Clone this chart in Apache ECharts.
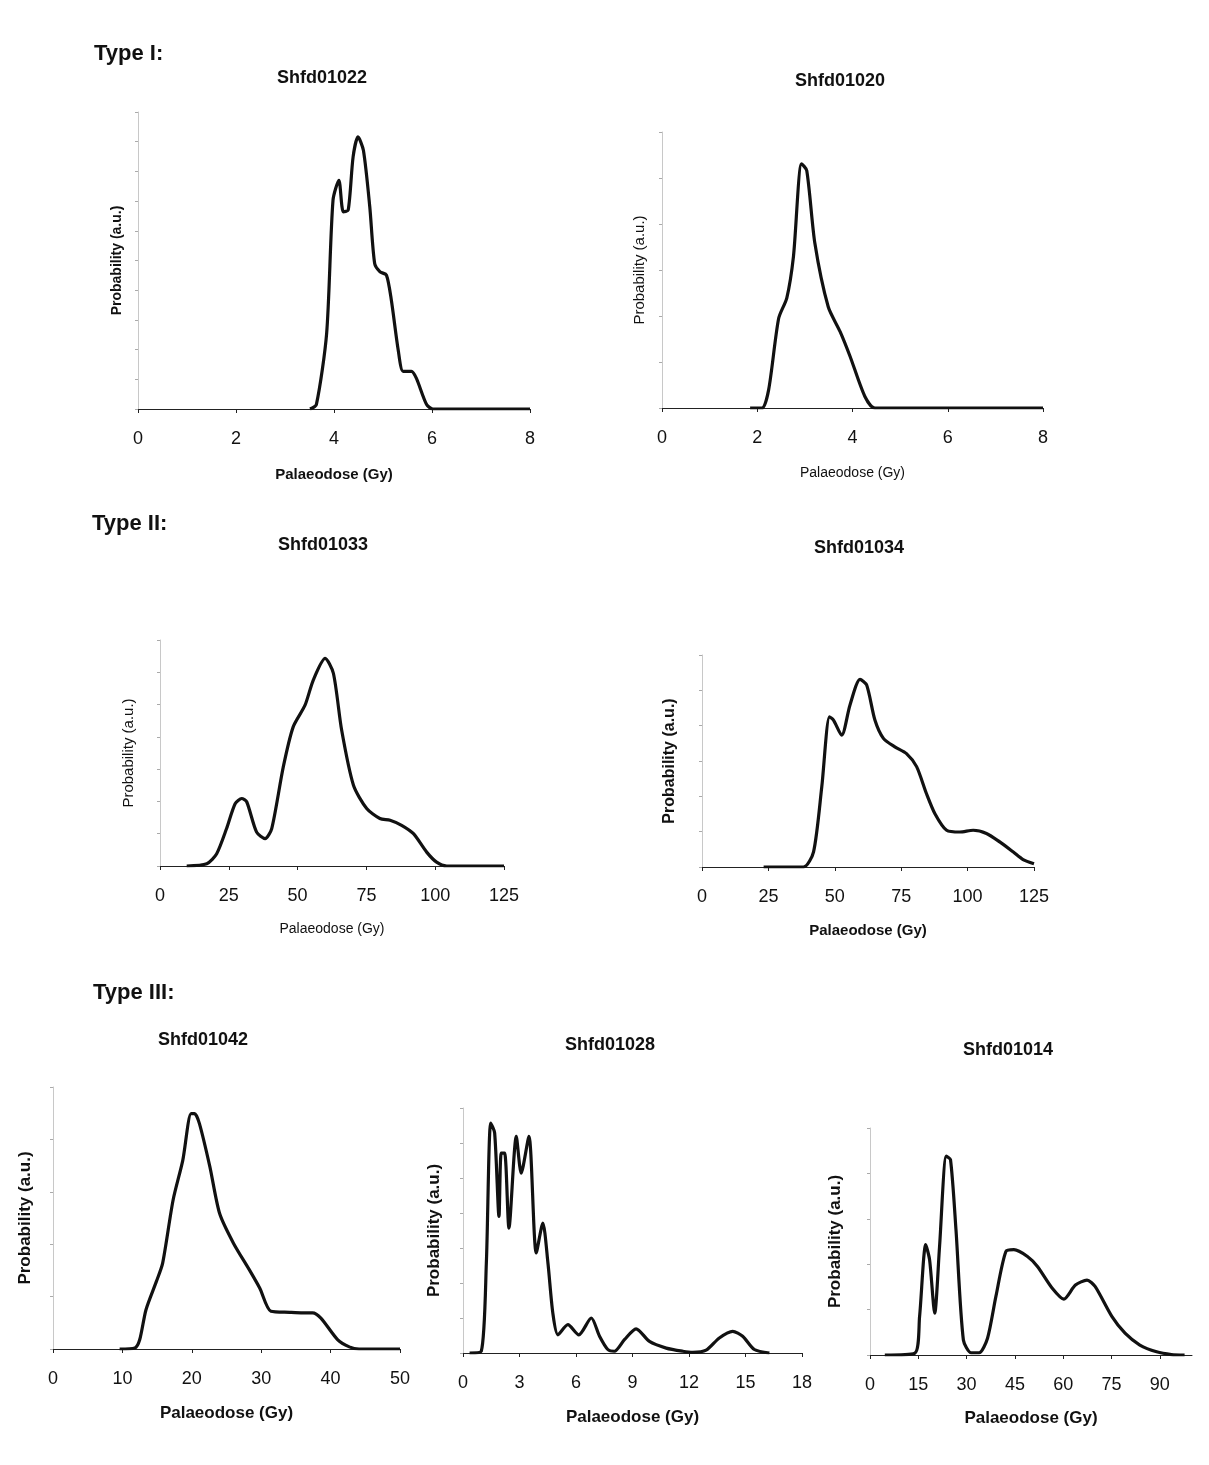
<!DOCTYPE html>
<html><head><meta charset="utf-8">
<script src="https://cdn.jsdelivr.net/npm/echarts@6/dist/echarts.min.js"></script>
<style>html,body{margin:0;padding:0;background:#fff}#c{width:1209px;height:1465px}</style>
</head><body><div id="c"></div>
<script>
// ---- data ----
const typeLabels = ["Type I:", "Type II:", "Type III:"];
const sampleNames = ["Shfd01022", "Shfd01020", "Shfd01033", "Shfd01034", "Shfd01042", "Shfd01028", "Shfd01014"];
const xAxisName = "Palaeodose (Gy)";
const yAxisName = "Probability (a.u.)";

const s1022x = [3.51, 3.64, 3.85, 3.98, 4.10, 4.19, 4.29, 4.39, 4.49, 4.60, 4.73, 4.83, 4.94, 5.07, 5.17, 5.31, 5.41, 5.58, 5.68, 5.89, 6.02, 8];
const s1022y = [0, 0.15, 2.55, 7.03, 7.70, 6.64, 6.70, 8.49, 9.16, 8.71, 6.81, 4.90, 4.62, 4.51, 3.67, 1.99, 1.27, 1.27, 1.04, 0.15, 0, 0];

const s1020x = [1.85, 2.10, 2.24, 2.45, 2.62, 2.76, 2.93, 3.04, 3.21, 3.49, 3.74, 3.95, 4.26, 4.47, 8];
const s1020y = [0, 0, 0.40, 1.95, 2.39, 3.29, 5.31, 5.16, 3.58, 2.20, 1.66, 1.12, 0.25, 0, 0];

const s1033x = [9.7, 17.0, 20.6, 24.2, 27.3, 29.7, 31.5, 35.1, 38.2, 40.6, 44.8, 48.4, 52.7, 55.7, 60.0, 63.0, 66.0, 70.3, 75.1, 79.9, 83.6, 87.8, 92.1, 96.9, 100.5, 104.2, 125];
const s1033y = [0, 0.07, 0.38, 1.16, 1.93, 2.09, 1.99, 1.05, 0.85, 1.16, 3.07, 4.31, 4.98, 5.76, 6.43, 5.97, 4.21, 2.50, 1.78, 1.47, 1.42, 1.26, 1.00, 0.43, 0.12, 0, 0];

const s1034x = [23.2, 38.2, 42.0, 45.1, 48.0, 49.5, 52.6, 55.7, 59.5, 62.0, 65.1, 68.3, 72.6, 77.0, 80.8, 84.5, 87.7, 92.1, 97.1, 102.1, 107.1, 112.1, 117.1, 120.9, 125];
const s1034y = [0, 0, 0.43, 2.27, 4.25, 4.16, 3.73, 4.58, 5.31, 5.15, 4.16, 3.64, 3.40, 3.21, 2.84, 2.08, 1.51, 1.04, 0.99, 1.04, 0.95, 0.71, 0.43, 0.21, 0.09];

const s1042x = [9.6, 11.8, 12.5, 13.4, 14.9, 15.8, 17.3, 18.7, 19.9, 20.4, 21.1, 22.6, 24.0, 26.0, 28.3, 29.8, 31.4, 34.1, 36.0, 37.4, 38.6, 41.0, 42.7, 44.1, 50];
const s1042y = [0, 0.02, 0.18, 0.75, 1.29, 1.64, 2.84, 3.60, 4.49, 4.49, 4.30, 3.48, 2.59, 2.02, 1.51, 1.16, 0.72, 0.70, 0.69, 0.69, 0.59, 0.18, 0.04, 0, 0];

const s1028x = [0.35, 0.97, 1.24, 1.47, 1.68, 1.91, 2.03, 2.21, 2.44, 2.83, 3.09, 3.50, 3.89, 4.24, 4.51, 4.77, 5.04, 5.57, 6.15, 6.81, 7.25, 7.69, 8.04, 8.57, 9.19, 9.90, 10.79, 11.67, 12.2, 12.91, 13.61, 14.32, 14.85, 15.47, 16.27];
const s1028y = [0, 0.05, 2.57, 6.57, 6.29, 3.90, 5.71, 5.71, 3.57, 6.19, 5.14, 6.19, 2.86, 3.71, 2.57, 1.14, 0.52, 0.81, 0.52, 1.00, 0.48, 0.10, 0.05, 0.38, 0.69, 0.33, 0.14, 0.05, 0.02, 0.08, 0.43, 0.62, 0.48, 0.10, 0];

const s1014x = [4.6, 13.9, 15.4, 17.3, 18.5, 20.1, 21.6, 23.7, 25.0, 26.7, 29.0, 31.4, 33.9, 36.5, 39.1, 42.2, 44.7, 48.9, 52.0, 56.6, 60.2, 63.8, 67.4, 69.9, 75.1, 79.2, 83.8, 89.0, 93.6, 97.7];
const s1014y = [0, 0.04, 0.85, 2.43, 2.10, 0.92, 2.39, 4.38, 4.30, 2.76, 0.33, 0.05, 0.05, 0.37, 1.29, 2.28, 2.32, 2.17, 1.95, 1.47, 1.23, 1.54, 1.65, 1.51, 0.85, 0.48, 0.22, 0.07, 0.01, 0];

// axis ranges
const xMax = [8, 8, 125, 125, 50, 18, 100];
const xStep = [2, 2, 25, 25, 10, 3, 15];
const yMax = [10, 6, 7, 6, 5, 7, 5];

// ---- layout / style ----
const FONT = "'Liberation Sans', Arial, sans-serif";
const xs = [s1022x, s1020x, s1033x, s1034x, s1042x, s1028x, s1014x];
const ys = [s1022y, s1020y, s1033y, s1034y, s1042y, s1028y, s1014y];
const grids = [
  {left: 138, top: 112, width: 392, height: 297},
  {left: 662, top: 132, width: 381, height: 276},
  {left: 160, top: 640, width: 344, height: 226},
  {left: 702, top: 655, width: 332, height: 212},
  {left: 53, top: 1087, width: 347, height: 262},
  {left: 463, top: 1108, width: 339, height: 245},
  {left: 870, top: 1128, width: 322, height: 227}
];
// name styles: [xBold, xSize, xGap, yBold, ySize, yGap]
const nameStyle = [
  [true, 15, 58, true, 14, 14],
  [false, 14, 58, false, 15, 15],
  [false, 14, 56, false, 15, 24],
  [true, 15, 56, true, 16, 24],
  [true, 17, 56, true, 17, 19],
  [true, 17, 56, true, 17, 20],
  [true, 17, 55, true, 17, 26]
];
const titlePos = [
  [322, 69], [840, 72], [323, 536], [859, 539], [203, 1031], [610, 1036], [1008, 1041]
];
const typePos = [[94, 43], [92, 513], [93, 982]];

const titles = [];
typeLabels.forEach((t, i) => titles.push({
  text: t, left: typePos[i][0], top: typePos[i][1], padding: 0,
  textStyle: {fontFamily: FONT, fontSize: 22, fontWeight: 'bold', color: '#111'}
}));
sampleNames.forEach((t, i) => titles.push({
  text: t, left: titlePos[i][0], top: titlePos[i][1], padding: 0, textAlign: 'center',
  textStyle: {fontFamily: FONT, fontSize: 18, fontWeight: 'bold', color: '#111'}
}));

const xAxes = [], yAxes = [], series = [];
for (let i = 0; i < 7; i++) {
  const ns = nameStyle[i];
  xAxes.push({
    type: 'value', gridIndex: i, min: 0, max: xMax[i], interval: xStep[i],
    name: xAxisName, nameLocation: 'middle', nameGap: ns[2],
    nameTextStyle: {fontFamily: FONT, fontSize: ns[1], fontWeight: ns[0] ? 'bold' : 'normal', color: '#111'},
    axisLine: {lineStyle: {color: '#222', width: 1}},
    axisTick: {show: true, length: 4, lineStyle: {color: '#222'}},
    axisLabel: {fontFamily: FONT, fontSize: 18, color: '#111', margin: 21, showMaxLabel: i !== 6},
    splitLine: {show: false}
  });
  yAxes.push({
    type: 'value', gridIndex: i, min: 0, max: yMax[i], interval: 1,
    name: yAxisName, nameLocation: 'middle', nameGap: ns[5],
    nameTextStyle: {fontFamily: FONT, fontSize: ns[4], fontWeight: ns[3] ? 'bold' : 'normal', color: '#111'},
    axisLine: {show: true, lineStyle: {color: '#c8c8c8', width: 1}},
    axisTick: {show: true, length: 3, lineStyle: {color: '#aaa'}},
    axisLabel: {show: false},
    splitLine: {show: false}
  });
  series.push({
    type: 'line', xAxisIndex: i, yAxisIndex: i, showSymbol: false, smooth: 0.25,
    lineStyle: {color: '#111', width: 3.2},
    data: xs[i].map((x, k) => [x, ys[i][k]])
  });
}

const chart = echarts.init(document.getElementById('c'), null, {renderer: 'canvas'});
chart.setOption({
  backgroundColor: '#fff',
  animation: false,
  title: titles,
  grid: grids,
  xAxis: xAxes,
  yAxis: yAxes,
  series: series
});
</script></body></html>
